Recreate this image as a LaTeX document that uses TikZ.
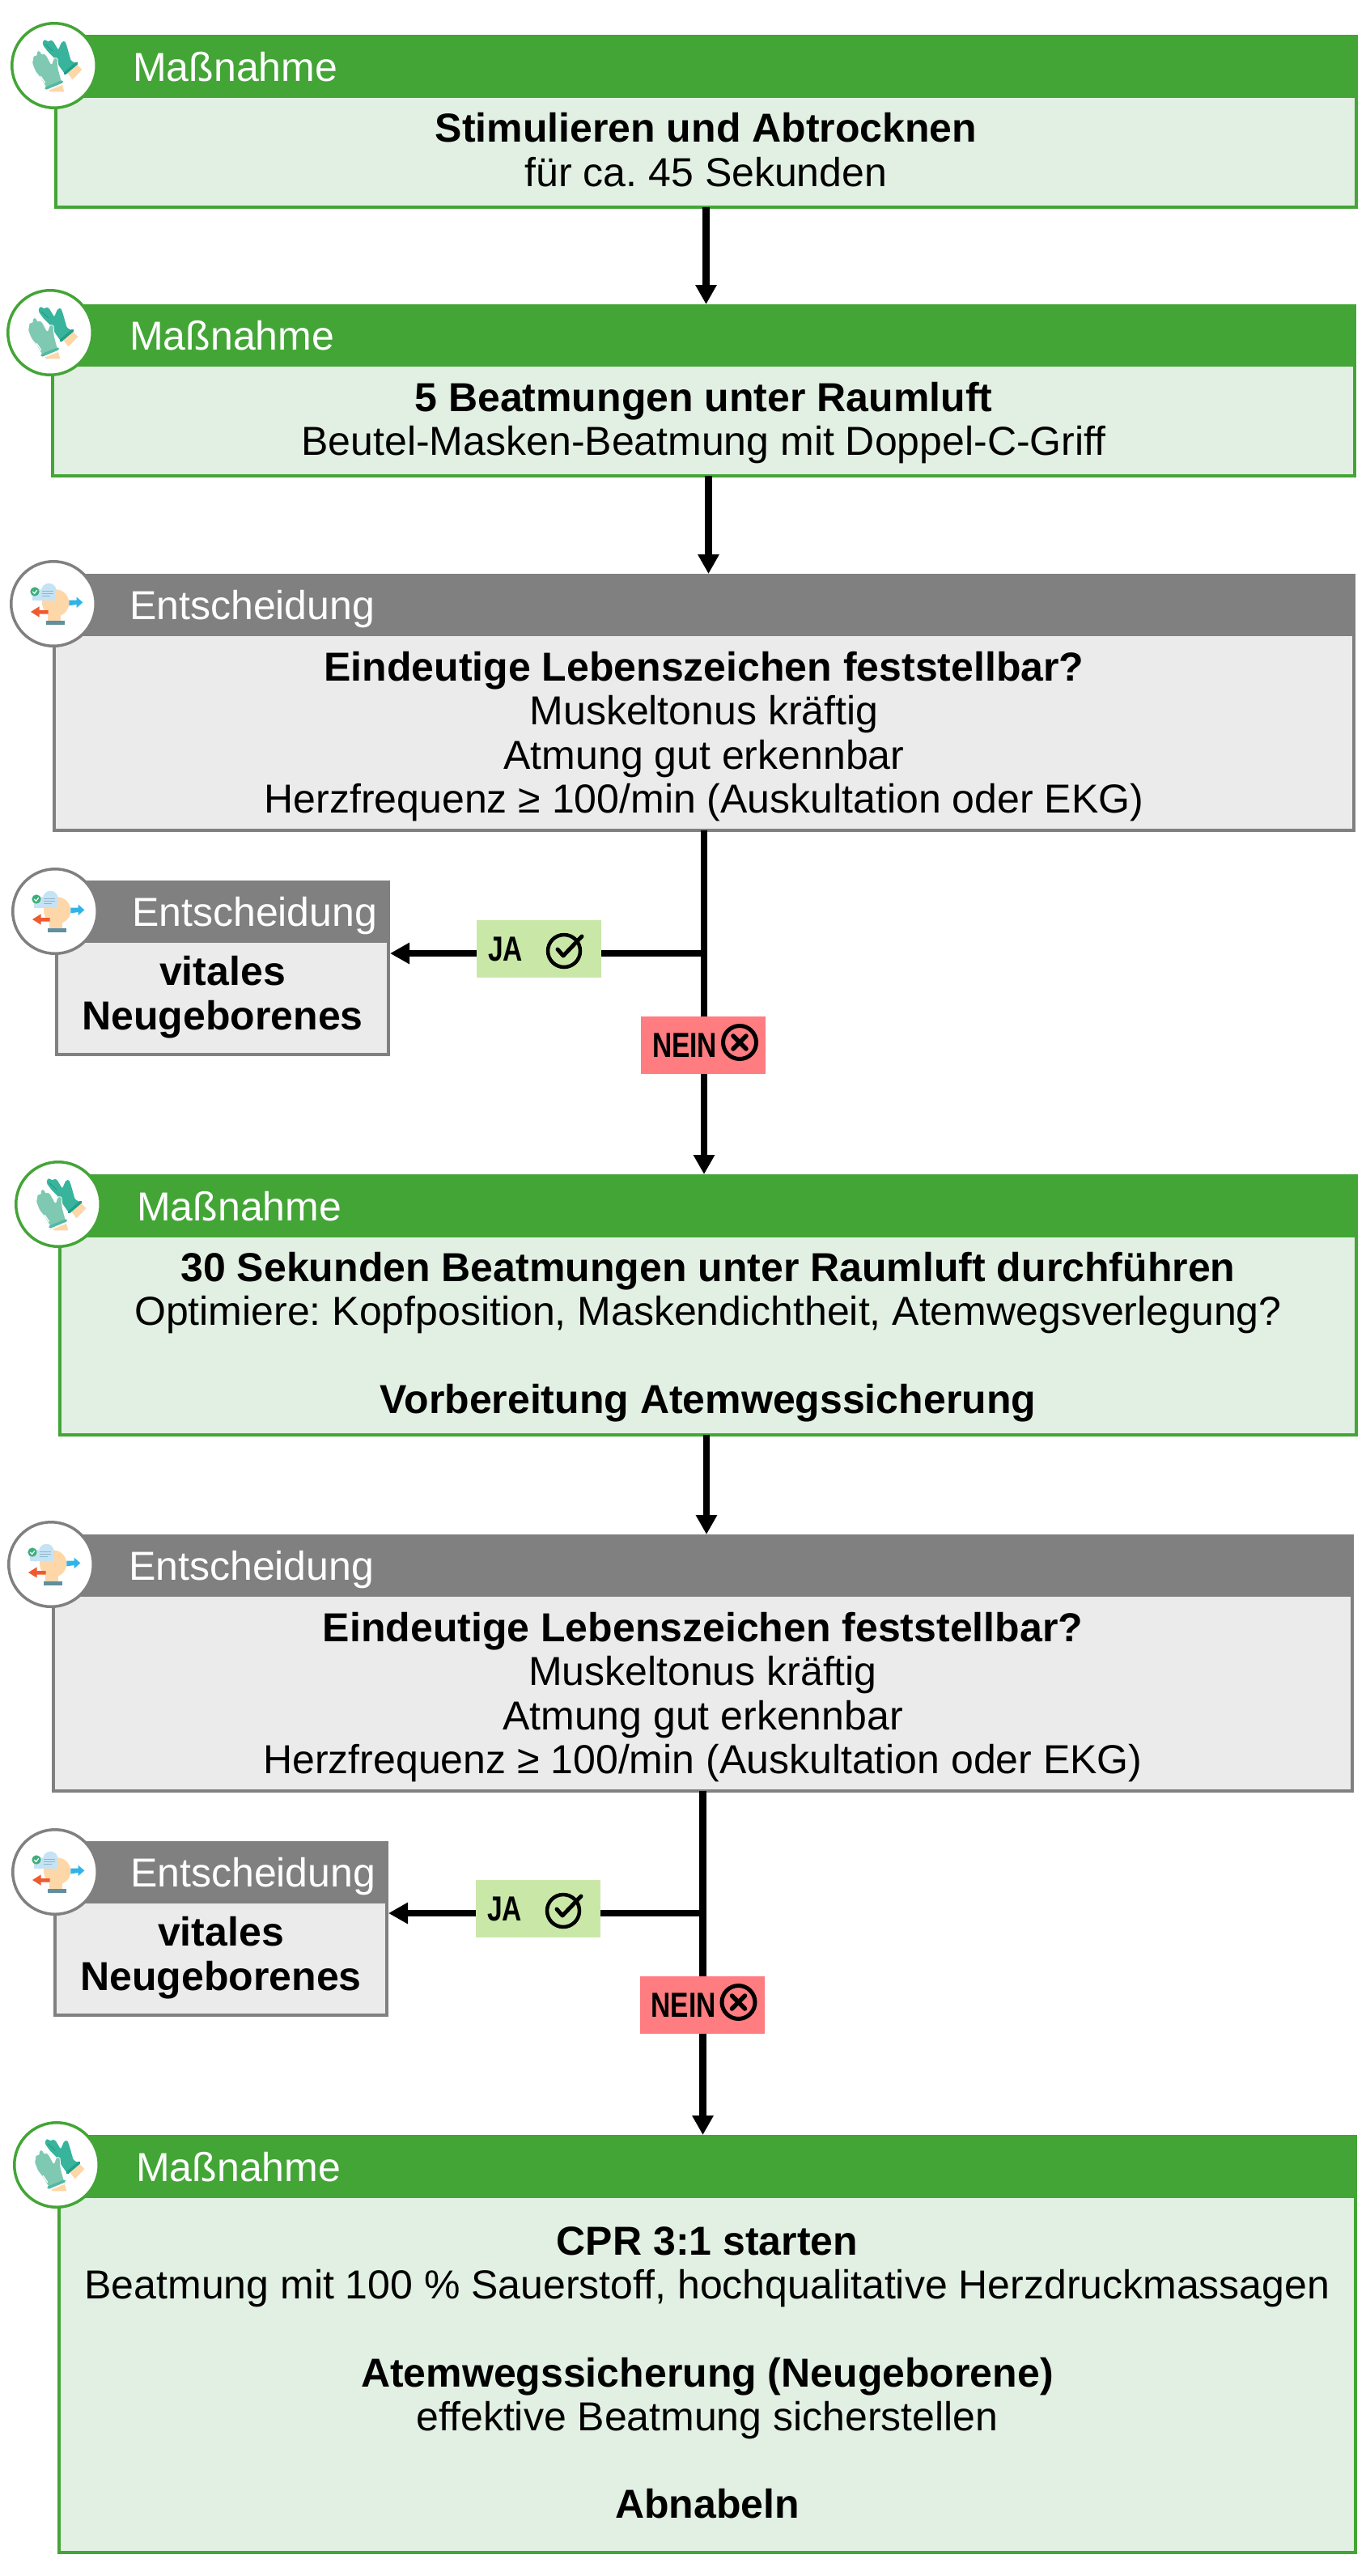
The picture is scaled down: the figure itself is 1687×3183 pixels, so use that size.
\documentclass[tikz,border=0pt]{standalone}
\usepackage{fontspec}
\setmainfont{Liberation Sans}
\usepackage{graphicx}
\usetikzlibrary{positioning,arrows.meta}
\frenchspacing

\definecolor{massgreen}{HTML}{43A536}
\definecolor{masslight}{HTML}{E2F0E3}
\definecolor{entsgray}{HTML}{808080}
\definecolor{entslight}{HTML}{EBEBEB}
\definecolor{jagreen}{HTML}{C9E8A7}
\definecolor{neinred}{HTML}{FF7C80}
\definecolor{glovedark}{HTML}{38B49C}
\definecolor{glovelight}{HTML}{7FC8B2}
\definecolor{cuffdark}{HTML}{1FA08A}
\definecolor{cufflight}{HTML}{54B8A0}
\definecolor{skin}{HTML}{FDD7A8}
\definecolor{cloud}{HTML}{C5E3F5}
\definecolor{cloudline}{HTML}{8FB6C8}
\definecolor{shield}{HTML}{3DAF7A}
\definecolor{arrowblue}{HTML}{2FB4EA}
\definecolor{arrowred}{HTML}{EF5A2E}
\definecolor{basebar}{HTML}{5F8FA0}

\tikzset{
  bodyfont/.style={font=\fontsize{50}{54.2}\selectfont},
  headbox/.style={anchor=north west,inner sep=0pt,outer sep=0pt},
  bodybox/.style={anchor=north west,inner sep=0pt,outer sep=0pt,line width=4pt},
  masshead/.style={headbox,fill=massgreen},
  masshbody/.style={bodybox,draw=massgreen,fill=masslight},
  entshead/.style={headbox,fill=entsgray},
  entsbody/.style={bodybox,draw=entsgray,fill=entslight},
  headtext/.style={bodyfont,text=white,inner sep=0pt,text height=38pt,text depth=0pt},
  bodytext/.style={bodyfont,align=center,inner sep=0pt,
    execute at begin node=\strut,execute at end node=\strut},
  massring/.style={circle,draw=massgreen,fill=white,line width=3.5pt,minimum size=104.5pt,inner sep=0pt},
  entsring/.style={massring,draw=entsgray},
  answer/.style={minimum width=154pt,minimum height=71pt,text width=126pt,inner xsep=14pt,
    inner ysep=0pt,outer sep=0pt,align=left,font=\fontsize{43}{43}\selectfont\bfseries},
  jabox/.style={answer,fill=jagreen},
  neinbox/.style={answer,fill=neinred},
  arrow/.style={line width=8.6pt,-{Triangle[length=24pt,width=25pt]}},
  stem/.style={line width=8.6pt},
  pics/gloves/.style={code={
    \begin{scope}[scale=.3333,shift={(-200,-243)}]
      \fill[skin] (250,272) -- (285,240) -- (303,258) -- (268,295) -- cycle;
      \fill[glovedark,rounded corners=1.5pt] (157,165) -- (160,148) -- (170,148) -- (178,156) -- (186,148) -- (196,153)
        -- (215,185) -- (228,155) -- (240,152) -- (248,175) -- (262,225) -- (285,237) -- (240,275)
        -- (222,250) -- (200,215) -- (175,190) -- cycle;
      \draw[cuffdark,line width=3.5pt,line cap=round] (240,272) -- (283,235);
      \draw[cuffdark,line width=1pt] (168,165) -- (195,190);
      \fill[skin] (180,335) -- (230,315) -- (237,340) -- (185,340) -- cycle;
      \fill[glovelight,draw=white,line width=.8pt,rounded corners=1.5pt] (118,235) -- (123,205) -- (135,207) -- (135,190)
        -- (147,187) -- (155,203) -- (161,197) -- (171,205) -- (190,240) -- (198,215) -- (212,215)
        -- (215,255) -- (228,303) -- (172,328) -- (150,290) -- (130,265) -- cycle;
      \draw[cufflight,line width=3.5pt,line cap=round] (170,327) -- (228,303);
      \draw[white,line width=1.2pt,line cap=round] (150,283) -- (166,307);
    \end{scope}}},
  pics/headicon/.style={code={
    \begin{scope}[scale=.3333,shift={(-197,-198)}]
      \fill[skin] (205,195) circle[radius=50];
      \fill[skin] (175,220) rectangle (225,265);
      \fill[basebar] (170,262) rectangle (238,276);
      \fill[cloud] (120,150) rectangle (205,185);
      \fill[cloud] (180,150) circle[radius=28];
      \fill[cloud] (140,165) circle[radius=22];
      \draw[cloudline,line width=1pt] (155,150) -- (197,150) (155,160) -- (197,160) (155,170) -- (185,170);
      \fill[shield] (128,153) circle[radius=17];
      \draw[white,line width=1.2pt] (120,153) -- (127,160) -- (136,148);
      \fill[arrowblue] (255,185) -- (283,185) -- (283,173) -- (306,193) -- (283,213) -- (283,201) -- (255,205) -- cycle;
      \fill[arrowred] (178,222) -- (145,222) -- (145,208) -- (113,228) -- (145,248) -- (145,236) -- (178,236) -- cycle;
    \end{scope}}},
  pics/checkring/.style={code={
    \draw[line width=4.5pt] (0,0) circle[radius=20];
    \draw[line width=5pt,line cap=round,line join=round] (-8,-2) -- (-1,6) -- (22,-18);
  }},
  pics/crossring/.style={code={
    \draw[line width=5pt] (0,0) circle[radius=20.5];
    \draw[line width=5.5pt,line cap=round] (-8,-8) -- (8,8) (-8,8) -- (8,-8);
  }}
}

\begin{document}
\begin{tikzpicture}[x=1pt,y=-1pt]
  \useasboundingbox (0,0) rectangle (1687,3183);

  % first measure
  \node[masshbody,minimum width=1607pt,minimum height=137pt] (b1) at (69,119) {};
  \node[masshead,minimum width=1611pt,minimum height=76pt] (h1) at (67,43) {};
  \node[headtext,right=97pt of h1.west] (t1) {Maßnahme};
  \node[bodytext,yshift=-5.5pt] (x1) at (b1.center) {\textbf{Stimulieren und Abtrocknen}\\für ca. 45 Sekunden};
  \node[massring] (k1) at (67,81) {};
  \pic at (k1.center) {gloves};

  % second measure
  \node[masshbody,minimum width=1609pt,minimum height=137pt] (b2) at (65,451) {};
  \node[masshead,minimum width=1613pt,minimum height=75pt] (h2) at (63,376) {};
  \node[headtext,right=97pt of h2.west] (t2) {Maßnahme};
  \node[bodytext,yshift=-6pt] (x2) at (b2.center) {\textbf{5 Beatmungen unter Raumluft}\\Beutel-Masken-Beatmung mit Doppel-C-Griff};
  \node[massring] (k2) at (62,411) {};
  \pic at (k2.center) {gloves};

  % first decision
  \node[entsbody,minimum width=1606pt,minimum height=242pt] (b3) at (67,784) {};
  \node[entshead,minimum width=1610pt,minimum height=75pt] (h3) at (65,709) {};
  \node[headtext,right=95pt of h3.west] (t3) {Entscheidung};
  \node[bodytext,yshift=-8pt] (x3) at (b3.center) {\textbf{Eindeutige Lebenszeichen feststellbar?}\\Muskeltonus kräftig\\Atmung gut erkennbar\\Herzfrequenz ≥ 100/min (Auskultation oder EKG)};
  \node[entsring] (k3) at (66,746) {};
  \pic at (k3.center) {headicon};

  \node[entsbody,minimum width=410pt,minimum height=140pt] (b4) at (70,1163) {};
  \node[entshead,minimum width=414pt,minimum height=75pt] (h4) at (68,1088) {};
  \node[headtext,right=95pt of h4.west] (t4) {Entscheidung};
  \node[bodytext,yshift=-2pt] (x4) at (b4.center) {\textbf{vitales}\\\textbf{Neugeborenes}};
  \node[entsring] (k4) at (68,1126) {};
  \pic at (k4.center) {headicon};

  \node[jabox] (ja1) at (666,1172.5) {\scalebox{.78}[1]{JA}};
  \pic at ([xshift=31pt,yshift=-2.5pt]ja1.center) {checkring};
  \node[neinbox] (nein1) at (869,1291.5) {\scalebox{.78}[1]{NEIN}};
  \pic at ([xshift=45pt,yshift=3.5pt]nein1.center) {crossring};

  % third measure
  \node[masshbody,minimum width=1602pt,minimum height=246pt] (b5) at (74,1527) {};
  \node[masshead,minimum width=1606pt,minimum height=76pt] (h5) at (72,1451) {};
  \node[headtext,right=97pt of h5.west] (t5) {Maßnahme};
  \node[bodytext,yshift=-5pt] (x5) at (b5.center) {\textbf{30 Sekunden Beatmungen unter Raumluft durchführen}\\Optimiere: Kopfposition, Maskendichtheit, Atemwegsverlegung?\\[54.2pt]\textbf{Vorbereitung Atemwegssicherung}};
  \node[massring] (k5) at (72,1488) {};
  \pic at (k5.center) {gloves};

  % second decision
  \node[entsbody,minimum width=1605pt,minimum height=242pt] (b6) at (66,1971) {};
  \node[entshead,minimum width=1609pt,minimum height=75pt] (h6) at (64,1896) {};
  \node[headtext,right=95pt of h6.west] (t6) {Entscheidung};
  \node[bodytext,yshift=-8pt] (x6) at (b6.center) {\textbf{Eindeutige Lebenszeichen feststellbar?}\\Muskeltonus kräftig\\Atmung gut erkennbar\\Herzfrequenz ≥ 100/min (Auskultation oder EKG)};
  \node[entsring] (k6) at (63,1933) {};
  \pic at (k6.center) {headicon};

  \node[entsbody,minimum width=410pt,minimum height=140pt] (b8) at (68,2350) {};
  \node[entshead,minimum width=414pt,minimum height=75pt] (h8) at (66,2275) {};
  \node[headtext,right=95pt of h8.west] (t8) {Entscheidung};
  \node[bodytext,yshift=-2pt] (x8) at (b8.center) {\textbf{vitales}\\\textbf{Neugeborenes}};
  \node[entsring] (k8) at (68,2313) {};
  \pic at (k8.center) {headicon};

  \node[jabox] (ja2) at (665,2358.5) {\scalebox{.78}[1]{JA}};
  \pic at ([xshift=31pt,yshift=-2.5pt]ja2.center) {checkring};
  \node[neinbox] (nein2) at (867.5,2477.5) {\scalebox{.78}[1]{NEIN}};
  \pic at ([xshift=45pt,yshift=3.5pt]nein2.center) {crossring};

  % last measure
  \node[masshbody,minimum width=1602pt,minimum height=440pt] (b7) at (73,2714) {};
  \node[masshead,minimum width=1606pt,minimum height=76pt] (h7) at (71,2638) {};
  \node[headtext,right=97pt of h7.west] (t7) {Maßnahme};
  \node[bodytext,yshift=-6pt] (x7) at (b7.center) {\textbf{CPR 3:1 starten}\\Beatmung mit 100 \% Sauerstoff, hochqualitative Herzdruckmassagen\\[54.2pt]\textbf{Atemwegssicherung (Neugeborene)}\\effektive Beatmung sicherstellen\\[54.2pt]\textbf{Abnabeln}};
  \node[massring] (k7) at (70,2675) {};
  \pic at (k7.center) {gloves};

  % connectors
  \coordinate (abz1) at (870,1178);
  \coordinate (abz2) at (868.5,2364);
  \draw[arrow] (b1.south) -- (b1.south |- h2.north);
  \draw[arrow] ([xshift=6pt]b2.south) -- ([xshift=6pt]b2.south |- h3.north);
  \draw[stem] (b3.south) -- (b3.south |- nein1.north);
  \draw[stem] (abz1) -- (ja1.east |- abz1);
  \draw[arrow] (ja1.west |- abz1) -- (h4.east |- abz1);
  \draw[arrow] (b3.south |- nein1.south) -- (b3.south |- h5.north);
  \draw[arrow] ([xshift=-2pt]b5.south) -- ([xshift=-2pt]b5.south |- h6.north);
  \draw[stem] (b6.south) -- (b6.south |- nein2.north);
  \draw[stem] (abz2) -- (ja2.east |- abz2);
  \draw[arrow] (ja2.west |- abz2) -- (h8.east |- abz2);
  \draw[arrow] (b6.south |- nein2.south) -- (b6.south |- h7.north);
\end{tikzpicture}
\end{document}
